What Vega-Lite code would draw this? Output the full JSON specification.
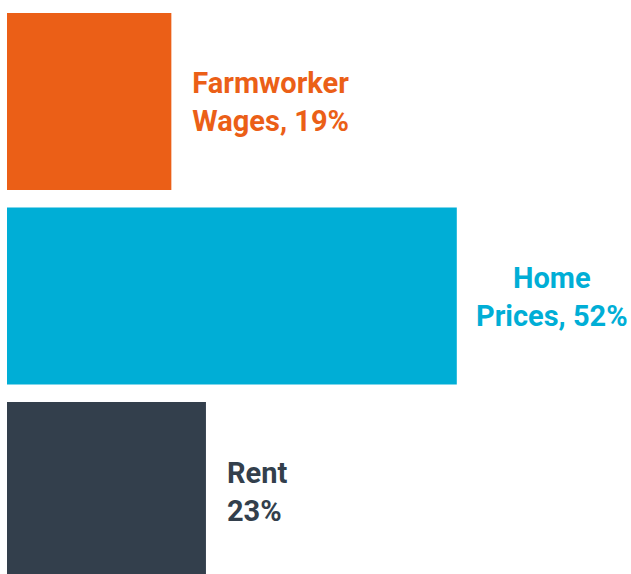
{
  "$schema": "https://vega.github.io/schema/vega-lite/v6.json",
  "width": 519,
  "height": 566,
  "autosize": {"type": "none"},
  "padding": {"left": 7, "top": 13, "right": 105, "bottom": 0},
  "background": "white",
  "config": {"view": {"stroke": null}},
  "data": {
    "values": [
      {"category": "Farmworker Wages", "pct": 19, "label": "Farmworker\nWages, 19%"},
      {"category": "Home Prices", "pct": 52, "label": "Home\nPrices, 52%"},
      {"category": "Rent", "pct": 23, "label": "Rent\n23%"}
    ]
  },
  "encoding": {
    "y": {
      "field": "category",
      "type": "nominal",
      "sort": ["Farmworker Wages", "Home Prices", "Rent"],
      "scale": {"paddingInner": 0.09, "paddingOuter": 0},
      "axis": null
    },
    "color": {
      "field": "category",
      "type": "nominal",
      "scale": {
        "domain": ["Farmworker Wages", "Home Prices", "Rent"],
        "range": ["#EB5F17", "#00AED6", "#333F4C"]
      },
      "legend": null
    }
  },
  "layer": [
    {
      "mark": {"type": "bar", "clip": false},
      "encoding": {
        "x": {"field": "pct", "type": "quantitative", "scale": {"domain": [0, 60]}, "axis": null}
      }
    },
    {
      "transform": [{"filter": "datum.category !== 'Home Prices'"}],
      "mark": {
        "type": "text",
        "align": "left",
        "baseline": "middle",
        "dx": 21,
        "dy": -17,
        "font": "Roboto",
        "fontWeight": "bold",
        "fontSize": 29,
        "lineHeight": 38,
        "lineBreak": "\n"
      },
      "encoding": {
        "x": {"field": "pct", "type": "quantitative"},
        "text": {"field": "label"}
      }
    },
    {
      "transform": [{"filter": "datum.category === 'Home Prices'"}],
      "mark": {
        "type": "text",
        "align": "center",
        "baseline": "middle",
        "dx": 95,
        "dy": -17,
        "font": "Roboto",
        "fontWeight": "bold",
        "fontSize": 29,
        "lineHeight": 38,
        "lineBreak": "\n"
      },
      "encoding": {
        "x": {"field": "pct", "type": "quantitative"},
        "text": {"field": "label"}
      }
    }
  ]
}
